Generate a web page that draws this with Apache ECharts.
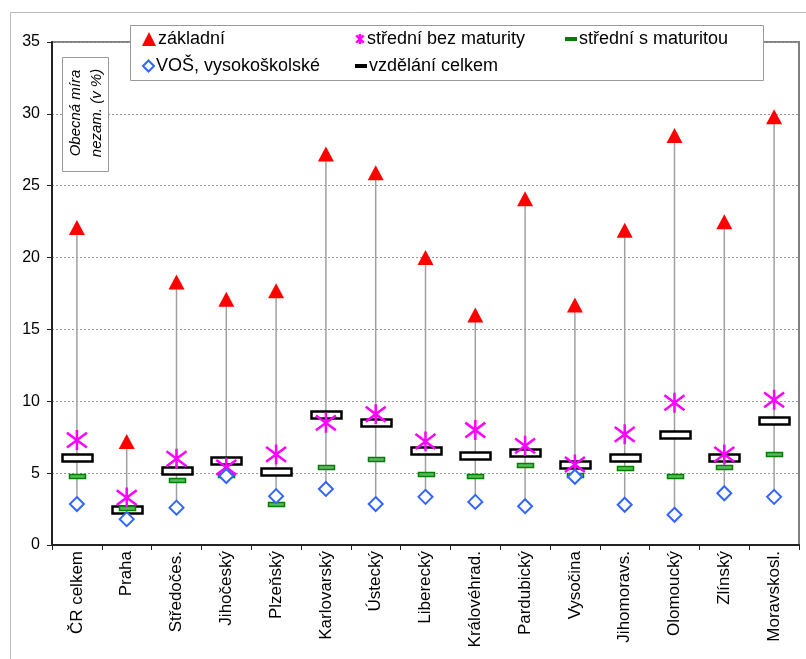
<!DOCTYPE html>
<html>
<head>
<meta charset="utf-8">
<script src="https://cdn.jsdelivr.net/npm/echarts@6/dist/echarts.min.js"></script>
<style>
  html, body { margin: 0; padding: 0; background: #fff; }
  #chart { width: 806px; height: 659px; }
</style>
</head>
<body>
<div id="chart"></div>
<script>
// kraje
const categories = ['ČR celkem', 'Praha', 'Středočes.', 'Jihočeský', 'Plzeňský', 'Karlovarský', 'Ústecký',
  'Liberecký', 'Královéhrad.', 'Pardubický', 'Vysočina', 'Jihomoravs.', 'Olomoucký', 'Zlínský', 'Moravskosl.']

// obecná míra nezaměstnanosti podle vzdělání (v %)
const zakladni = [22.1, 7.2, 18.3, 17.1, 17.7, 27.2, 25.9, 20.0, 16.0, 24.1, 16.7, 21.9, 28.5, 22.5, 29.8]
const bezMaturity = [7.3, 3.3, 6.0, 5.4, 6.3, 8.5, 9.1, 7.2, 8.0, 6.9, 5.6, 7.7, 9.9, 6.3, 10.1]
const sMaturitou = [4.8, 2.6, 4.5, 4.9, 2.85, 5.4, 6.0, 4.95, 4.8, 5.6, 4.9, 5.35, 4.8, 5.45, 6.3]
const vos = [2.85, 1.8, 2.6, 4.8, 3.4, 3.9, 2.85, 3.35, 3.0, 2.7, 4.75, 2.8, 2.1, 3.6, 3.35]
const celkem = [6.1, 2.5, 5.15, 5.85, 5.1, 9.05, 8.55, 6.55, 6.2, 6.45, 5.6, 6.1, 7.7, 6.1, 8.65]

const yTicks = { min: 0, max: 35, interval: 5 }

// hvězdička (asterisk) jako cesta
const asterisk = 'path://M-1,-1L1,1M-1,1L1,-1M0,-1.35L0,1.35'

const font = 'Liberation Sans, Arial, sans-serif'

const chart = echarts.init(document.getElementById('chart'))

// svislé čáry min-max
const hiLo = categories.map((c, i) => {
  const vals = [zakladni[i], bezMaturity[i], sMaturitou[i], vos[i], celkem[i]]
  return [i, Math.min(...vals), Math.max(...vals)]
})

// obdélníková značka pevné velikosti v pixelech
function rectMarker(w, h, fill, stroke, lw) {
  return (params, api) => {
    const p = api.coord([api.value(0), api.value(1)])
    return {
      type: 'rect',
      shape: { x: Math.round(p[0] - w / 2) + 0.5, y: Math.round(p[1] - h / 2) + 0.5, width: w, height: h },
      style: { fill: fill, stroke: stroke, lineWidth: lw }
    }
  }
}

function legendItem(name, left, top, icon, w, h, style) {
  return {
    data: [{ name: name, icon: icon, itemStyle: style }],
    left: left,
    top: top,
    itemWidth: w,
    itemHeight: h,
    itemGap: 2,
    padding: 0,
    selectedMode: false,
    textStyle: { fontFamily: font, fontSize: 18, color: '#000', padding: [0, 0, 0, -3] }
  }
}

const option = {
  animation: false,
  backgroundColor: '#fff',
  textStyle: { fontFamily: font },
  grid: {
    left: 52,
    top: 42,
    right: 7,
    bottom: 114,
    show: true,
    borderColor: '#808080',
    borderWidth: 2,
    containLabel: false
  },
  xAxis: {
    type: 'category',
    data: categories,
    boundaryGap: true,
    axisLine: { lineStyle: { color: '#222', width: 2 } },
    axisTick: { show: true, length: 5, lineStyle: { color: '#222' } },
    axisLabel: { rotate: 90, fontSize: 17, color: '#000', fontFamily: font, margin: 6, interval: 0 },
    splitLine: { show: false }
  },
  yAxis: {
    type: 'value',
    min: yTicks.min,
    max: yTicks.max,
    interval: yTicks.interval,
    axisLine: { show: true, lineStyle: { color: '#222', width: 2 } },
    axisTick: { show: true, length: 5, lineStyle: { color: '#222' } },
    axisLabel: { fontSize: 16, color: '#000', fontFamily: font, margin: 12 },
    splitLine: { show: true, lineStyle: { color: '#999', type: [2, 2], width: 1 } }
  },
  legend: [
    legendItem('základní', 142, 30, 'triangle', 14, 14, { color: '#ff0000' }),
    legendItem('střední bez maturity', 355, 30, asterisk, 10, 10,
      { color: 'rgba(0,0,0,0)', borderColor: '#ff00ff', borderWidth: 2.5 }),
    legendItem('střední s maturitou', 565, 30, 'rect', 12, 4, { color: '#008000', borderWidth: 0 }),
    legendItem('VOŠ, vysokoškolské', 142, 57, 'diamond', 11, 11,
      { color: '#fff', borderColor: '#3366ff', borderWidth: 2 }),
    legendItem('vzdělání celkem', 355, 57, 'rect', 12, 4, { color: '#000', borderWidth: 0 })
  ],
  graphic: [
    {
      type: 'rect',
      z: 3,
      shape: { x: 10.5, y: 12.5, width: 810, height: 660 },
      style: { fill: 'none', stroke: '#bbb', lineWidth: 1 }
    },
    {
      type: 'rect',
      z: 3,
      shape: { x: 130.5, y: 25.5, width: 633, height: 55 },
      style: { fill: '#fff', stroke: '#999', lineWidth: 1 }
    },
    {
      type: 'rect',
      z: 3,
      shape: { x: 62.5, y: 57.5, width: 46, height: 114 },
      style: { fill: '#fff', stroke: '#999', lineWidth: 1 }
    },
    {
      type: 'text',
      z: 4,
      x: 86,
      y: 113,
      rotation: Math.PI / 2,
      style: {
        text: 'Obecná míra\nnezam. (v %)',
        fontFamily: font,
        fontSize: 15,
        fontStyle: 'italic',
        fill: '#000',
        align: 'center',
        verticalAlign: 'middle',
        lineHeight: 21
      }
    }
  ],
  series: [
    {
      type: 'custom',
      name: 'hilo',
      z: 1,
      silent: true,
      data: hiLo,
      encode: { x: 0, y: [1, 2] },
      renderItem: (params, api) => {
        const p1 = api.coord([api.value(0), api.value(1)])
        const p2 = api.coord([api.value(0), api.value(2)])
        return {
          type: 'line',
          shape: { x1: p1[0], y1: p1[1], x2: p2[0], y2: p2[1] },
          style: { stroke: '#a0a0a0', lineWidth: 1.5 }
        }
      }
    },
    {
      name: 'vzdělání celkem',
      type: 'custom',
      z: 2,
      data: celkem.map((v, i) => [i, v]),
      encode: { x: 0, y: 1 },
      renderItem: rectMarker(30, 7, '#fff', '#000', 2.5)
    },
    {
      name: 'základní',
      type: 'scatter',
      z: 3,
      data: zakladni,
      symbol: 'triangle',
      symbolSize: [16, 15],
      itemStyle: { color: '#ff0000', opacity: 1 }
    },
    {
      name: 'střední bez maturity',
      type: 'scatter',
      z: 3,
      data: bezMaturity,
      symbol: asterisk,
      symbolSize: 20,
      itemStyle: { color: 'rgba(0,0,0,0)', borderColor: '#ff00ff', borderWidth: 2.5, opacity: 1 }
    },
    {
      name: 'střední s maturitou',
      type: 'custom',
      z: 3,
      data: sMaturitou.map((v, i) => [i, v]),
      encode: { x: 0, y: 1 },
      renderItem: rectMarker(16, 4, '#5cb85c', '#008000', 1.5)
    },
    {
      name: 'VOŠ, vysokoškolské',
      type: 'scatter',
      z: 4,
      data: vos,
      symbol: 'diamond',
      symbolSize: 14,
      itemStyle: { color: '#fff', borderColor: '#3366ff', borderWidth: 2, opacity: 1 }
    }
  ]
}

chart.setOption(option)

window.addEventListener('resize', () => { chart.resize() })
</script>
</body>
</html>
